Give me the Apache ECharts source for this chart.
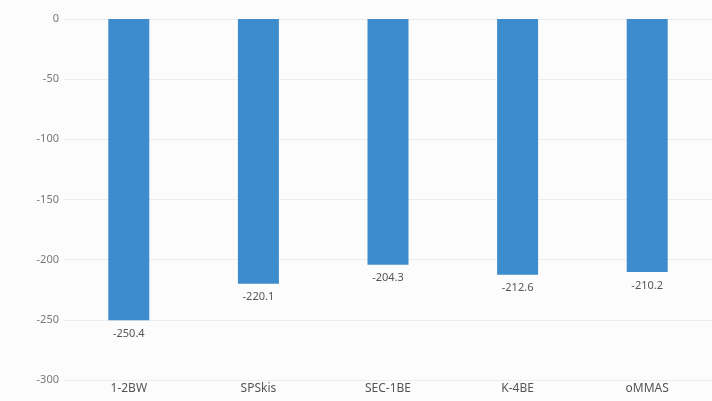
<!DOCTYPE html>
<html>
<head>
<meta charset="utf-8">
<script src="https://cdn.jsdelivr.net/npm/echarts@6/dist/echarts.min.js"></script>
<style>
html,body{margin:0;padding:0;background:#fcfcfc;}
#c{width:712px;height:401px;}
</style>
</head>
<body>
<div id="c"></div>
<script>
var categories = ["1-2BW", "SPSkis", "SEC-1BE", "K-4BE", "oMMAS"];
var values = [-250.4, -220.1, -204.3, -212.6, -210.2];
var yTicks = { min: -300, max: 0, interval: 50 };

var chart = echarts.init(document.getElementById('c'), null, { renderer: 'canvas' });
chart.setOption({
  backgroundColor: '#fcfcfc',
  animation: false,
  grid: { left: 64, right: -5, top: 19, bottom: 21, containLabel: false },
  xAxis: {
    type: 'category',
    data: categories,
    position: 'bottom',
    axisLine: { show: false, onZero: false },
    axisTick: { show: false },
    axisLabel: { color: '#555', fontSize: 12, margin: 3, fontFamily: 'Noto Sans' }
  },
  yAxis: {
    type: 'value',
    min: yTicks.min,
    max: yTicks.max,
    interval: yTicks.interval,
    axisLine: { show: false },
    axisTick: { show: false },
    axisLabel: { color: '#777', fontSize: 11, margin: 5, fontFamily: 'Noto Sans' },
    splitLine: { lineStyle: { color: '#ececec', width: 1 } }
  },
  series: [{
    type: 'bar',
    data: values,
    barWidth: 41,
    itemStyle: { color: '#3d8ccd' },
    label: {
      show: true,
      position: 'bottom',
      distance: 8,
      color: '#555',
      fontSize: 11,
      fontFamily: 'Noto Sans'
    }
  }]
});
</script>
</body>
</html>
